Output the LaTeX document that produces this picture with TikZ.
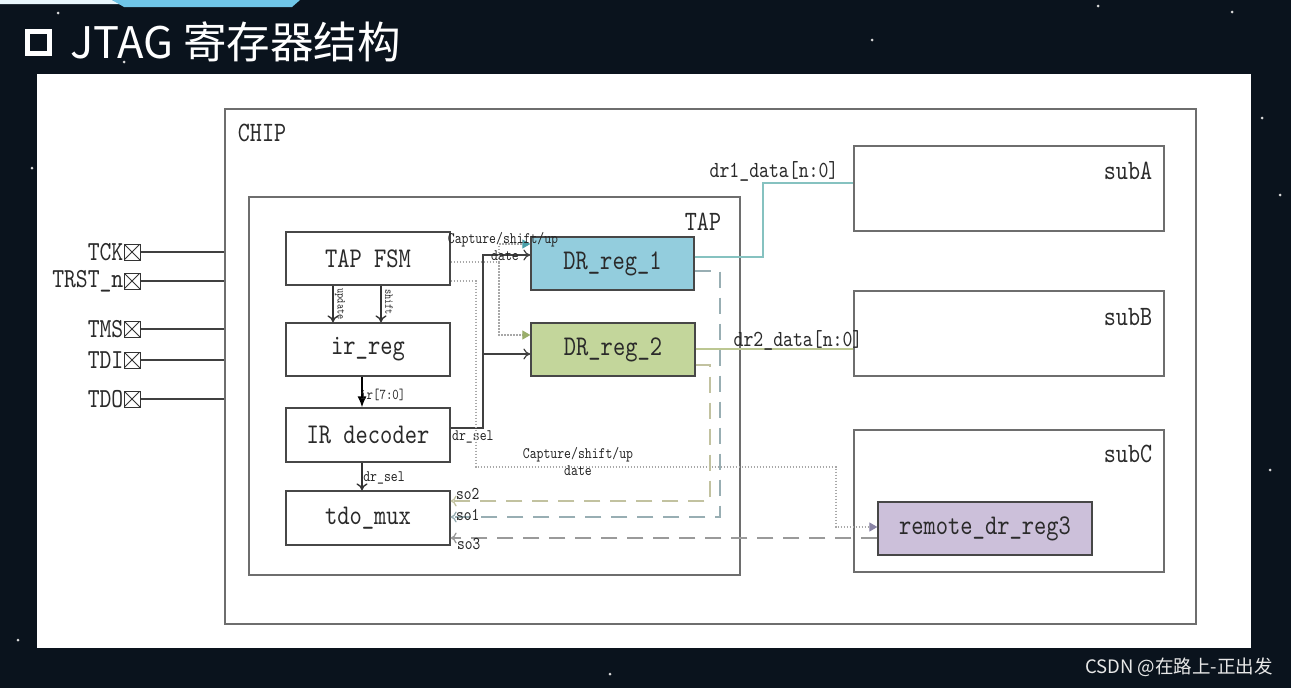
\documentclass[tikz,border=0pt]{standalone}
\usepackage{fontspec}
\usepackage{xcolor}
\usepackage{tikz}
\usetikzlibrary{arrows.meta,positioning}
\newfontfamily\schfont[FakeStretch=0.82]{lmmono10-regular.otf}
\newfontfamily\cjkfont{Noto Sans CJK SC}
\definecolor{bgnavy}{HTML}{0A131D}
\definecolor{topcyan}{HTML}{6FC6E8}
\definecolor{framegray}{HTML}{6E6E6E}
\definecolor{boxgray}{HTML}{474747}
\definecolor{textgray}{HTML}{2A2A2A}
\definecolor{dronefill}{HTML}{93CDDD}
\definecolor{drtwofill}{HTML}{C3D69B}
\definecolor{remotefill}{HTML}{CCC0DA}
\definecolor{dataone}{HTML}{86C2C0}
\definecolor{datatwo}{HTML}{BCC792}
\definecolor{soone}{HTML}{98AEB3}
\definecolor{sotwo}{HTML}{C2C2A0}
\definecolor{sothree}{HTML}{9A9A9A}
\definecolor{dotgray}{HTML}{A8A8A8}
\definecolor{tealhead}{HTML}{4A9FA8}
\definecolor{greenhead}{HTML}{9AAE6A}
\definecolor{purplehead}{HTML}{8A84A6}

\begin{document}
\begin{tikzpicture}[x=1pt, y=-1pt,
  frame/.style={draw=framegray, line width=1.3pt, inner sep=0pt},
  blk/.style={draw=boxgray, line width=1.3pt, fill=white, minimum width=164pt,
    minimum height=53pt, inner sep=0pt, text=textgray,
    font=\schfont\fontsize{28.5}{30}\selectfont},
  lbl/.style={text=textgray, inner sep=0pt, font=\schfont\fontsize{28}{30}\selectfont},
  pinbox/.style={draw=black!80, line width=1pt, minimum size=16pt, inner sep=0pt,
    path picture={\draw[line width=0.8pt]
      (path picture bounding box.north west) -- (path picture bounding box.south east)
      (path picture bounding box.north east) -- (path picture bounding box.south west);}},
  pinlbl/.style={text=textgray, inner sep=0pt, anchor=east,
    font=\schfont\fontsize{27.5}{29}\selectfont},
  sig/.style={text=black!85, inner sep=0pt, font=\schfont\fontsize{16}{17}\selectfont},
  datalbl/.style={text=textgray, inner sep=0pt, font=\schfont\fontsize{23}{25}\selectfont},
  wire/.style={line width=1.2pt, draw=black!75},
  ctl/.style={line width=1.4pt, draw=black!80, -{To[length=7pt,width=11pt]}},
  strobe/.style={draw=dotgray, line width=1.2pt, dash pattern=on 1.5pt off 1.5pt},
  soline/.style={line width=1.3pt, dash pattern=on 16pt off 10pt, -{To[length=6pt,width=11pt]}},
]
% background and page
\fill[bgnavy] (0,0) rectangle (1291,688);
\useasboundingbox (0,0) rectangle (1291,688);
\fill[white!85!topcyan] (0,0) -- (112,0) -- (120,4) -- (0,4) -- cycle;
\fill[topcyan] (112,0) -- (300,0) -- (292,7) -- (124,7) -- cycle;
\foreach \sx/\sy in {58/13, 124/62, 32/168, 1270/470, 1280/195, 1262/118, 1232/12, 18/640, 610/674, 1098/6, 872/40}
  \fill[white!70!gray] (\sx,\sy) circle (1.5pt);
\node[fill=white, minimum width=1214pt, minimum height=574pt, inner sep=0pt] (panel) at (644,361) {};

% title and watermark
\node[draw=white, line width=5pt, minimum size=22pt, inner sep=0pt] (icon) at (38.5,42) {};
\node[anchor=west, inner sep=0pt, text=white, font=\cjkfont\fontsize{43.5}{45}\selectfont] (title) at (70,42) {JTAG 寄存器结构};
\node[anchor=east, inner sep=0pt, text=white!82!gray, font=\cjkfont\fontsize{18.5}{20}\selectfont] (mark) at (1273,667) {CSDN @在路上-正出发};

% frames
\node[frame, minimum width=971pt, minimum height=515pt] (chip) at (710.5,366.5) {};
\node[frame, minimum width=491pt, minimum height=378pt] (tap) at (494.5,386) {};
\node[frame, minimum width=310pt, minimum height=85pt] (subA) at (1009,188.5) {};
\node[frame, minimum width=310pt, minimum height=85pt] (subB) at (1009,333.5) {};
\node[frame, minimum width=310pt, minimum height=142pt] (subC) at (1009,501) {};
\node[lbl] (chiplbl) at (262,133) {CHIP};
\node[lbl] (taplbl) at (703,222) {TAP};
\node[lbl] (subAlbl) at (1128,171) {subA};
\node[lbl] (subBlbl) at (1128,317) {subB};
\node[lbl] (subClbl) at (1128,454) {subC};

% pins
\node[pinbox] (tck) at (132,252) {};
\node[pinbox] (trst) at (132,281) {};
\node[pinbox] (tms) at (132,329) {};
\node[pinbox] (tdi) at (132,360) {};
\node[pinbox] (tdo) at (132,399) {};
\node[pinlbl] (tcklbl) at (tck.west) {TCK};
\node[pinlbl] (trstlbl) at (trst.west) {TRST\_n};
\node[pinlbl] (tmslbl) at (tms.west) {TMS};
\node[pinlbl] (tdilbl) at (tdi.west) {TDI};
\node[pinlbl] (tdolbl) at (tdo.west) {TDO};
\draw[wire] (tck.east) -- (chip.west |- tck.east);
\draw[wire] (trst.east) -- (chip.west |- trst.east);
\draw[wire] (tms.east) -- (chip.west |- tms.east);
\draw[wire] (tdi.east) -- (chip.west |- tdi.east);
\draw[wire] (tdo.east) -- (chip.west |- tdo.east);

% blocks
\node[blk] (fsm) at (368,258.5) {TAP FSM};
\node[blk] (irreg) at (368,349.5) {ir\_reg};
\node[blk, minimum height=54pt] (irdec) at (368,435) {IR decoder};
\node[blk, minimum height=54pt] (tdomux) at (368,518) {tdo\_mux};
\node[blk, minimum width=163pt, fill=dronefill] (dr1) at (612.5,263.5) {DR\_reg\_1};
\node[blk, fill=drtwofill] (dr2) at (613,349.5) {DR\_reg\_2};
\node[blk, minimum width=214pt, fill=remotefill] (rdr3) at (985,528.5) {remote\_dr\_reg3};

% TAP FSM -> ir_reg
\draw[ctl] (fsm.south -| 333,0) -- (irreg.north -| 333,0);
\draw[ctl] (fsm.south -| 381,0) -- (irreg.north -| 381,0);
\node[sig, rotate=-90, font=\schfont\fontsize{12}{13}\selectfont] (updlbl) at (340,304) {update};
\node[sig, rotate=-90, font=\schfont\fontsize{12}{13}\selectfont] (shflbl) at (389,302) {shift};

% ir_reg -> IR decoder -> tdo_mux
\draw[line width=1.4pt, -{Latex[length=11pt,width=9pt]}] (irreg.south -| 362,0) -- (irdec.north -| 362,0);
\node[sig, anchor=west, font=\schfont\fontsize{15}{16}\selectfont] (irlbl) at (360,395) {ir[7:0]};
\draw[ctl] (irdec.south -| 362,0) -- (tdomux.north -| 362,0);
\node[sig] (sellbl) at (384,478) {dr\_sel};

% dr_sel to the data registers
\draw[wire, -{To[length=7pt,width=11pt]}] (irdec.east |- 0,428) -| (483,255) -- (dr1.west |- 0,255);
\draw[wire, -{To[length=7pt,width=11pt]}] (483,354) -- (dr2.west |- 0,354);
\node[sig, anchor=west] (sellbl2) at (452,437) {dr\_sel};

% capture/shift/update strobes
\draw[strobe] (fsm.east |- 0,262) -- (499,262);
\draw[strobe, -{Triangle[length=8pt,width=9pt,color=tealhead]}] (499,262) |- (dr1.west |- 0,244);
\draw[strobe, -{Triangle[length=8pt,width=9pt,color=greenhead]}] (499,262) |- (dr2.west |- 0,335);
\draw[strobe, -{Triangle[length=8pt,width=9pt,color=purplehead]}] (fsm.east |- 0,281) -| (476,467) -| (836,527) -- (rdr3.west |- 0,527);
\node[sig] (caplbl1) at (503,240) {Capture/shift/up};
\node[sig] (datelbl1) at (505,256) {date};
\node[sig, align=center] (caplbl2) at (578,461) {Capture/shift/up\\date};

% data outputs
\draw[line width=1.3pt, draw=dataone] (dr1.east |- 0,257) -| (763,183) -- (subA.west |- 0,183);
\node[datalbl] (d1lbl) at (774,171) {dr1\_data[n:0]};
\draw[line width=1.3pt, draw=datatwo] (dr2.east |- 0,349) -- (subB.west |- 0,349);
\node[datalbl] (d2lbl) at (798,340) {dr2\_data[n:0]};

% scan outputs back to tdo_mux
\draw[soline, draw=soone] (dr1.east |- 0,271) -| (720,517) -- (tdomux.east |- 0,517);
\draw[soline, draw=sotwo] (dr2.east |- 0,365) -| (710,501) -- (tdomux.east |- 0,501);
\draw[soline, draw=sothree] (rdr3.west |- 0,538) -- (tdomux.east |- 0,538);
\node[sig, anchor=west, font=\schfont\fontsize{18}{19}\selectfont] (so2lbl) at (456,494) {so2};
\node[sig, anchor=west, font=\schfont\fontsize{18}{19}\selectfont] (so1lbl) at (456,515) {so1};
\node[sig, anchor=west, font=\schfont\fontsize{18}{19}\selectfont] (so3lbl) at (457,544) {so3};
\end{tikzpicture}
\end{document}
